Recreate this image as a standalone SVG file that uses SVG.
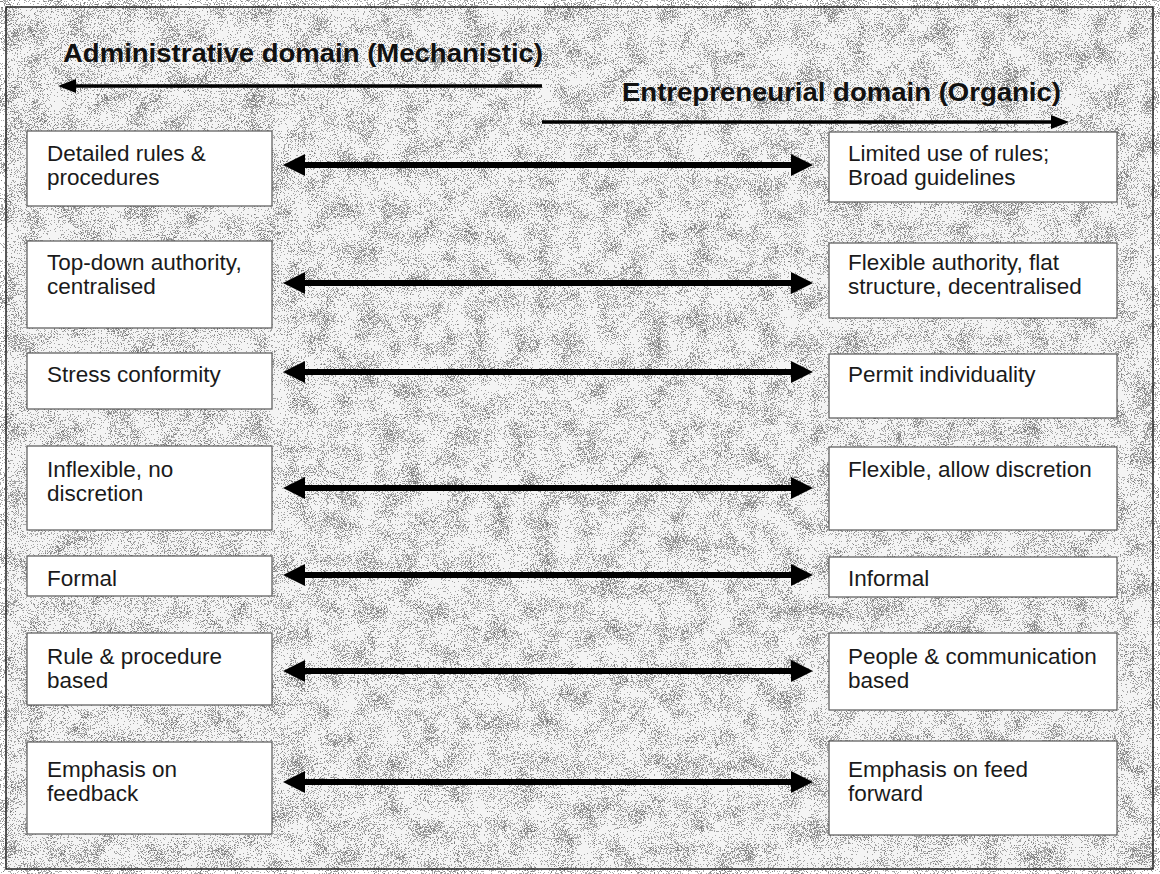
<svg xmlns="http://www.w3.org/2000/svg" width="1160" height="874" viewBox="0 0 1160 874">
  <style>
    .head { font-family: "Liberation Sans", Arial, sans-serif; font-weight: bold; font-size: 25px; fill: #111; }
    .lbl { font-family: "Liberation Sans", Arial, sans-serif; font-size: 22.5px; fill: #1a1a1a; }
    .box { fill: #ffffff; stroke: #555; stroke-width: 1.2; }
    .dir { stroke: #000; stroke-width: 3.5; fill: none; }
    .link { stroke: #000; stroke-width: 6; fill: none; }
  </style>
  <defs>
    <marker id="headSmall" viewBox="0 0 18 14" markerWidth="18" markerHeight="14" refX="0" refY="7" orient="auto-start-reverse" markerUnits="userSpaceOnUse">
      <path d="M0,0 L18,7 L0,14 z" fill="#000"/>
    </marker>
    <marker id="headBig" viewBox="0 0 22 22" markerWidth="22" markerHeight="22" refX="0" refY="11" orient="auto-start-reverse" markerUnits="userSpaceOnUse">
      <path d="M0,0 L22,11 L0,22 z" fill="#000"/>
    </marker>
    <!-- speckled halftone backdrop: fine dots, lightly modulated by a slower field -->
    <filter id="grain" x="0" y="0" width="1160" height="874" filterUnits="userSpaceOnUse" color-interpolation-filters="sRGB">
      <feTurbulence type="fractalNoise" baseFrequency="1.3" numOctaves="1" seed="5" result="fine"/>
      <feTurbulence type="fractalNoise" baseFrequency="0.045" numOctaves="2" seed="11" result="coarse"/>
      <feColorMatrix in="fine" type="matrix" values="0 0 0 0 0  0 0 0 0 0  0 0 0 0 0  1 0 0 0 0" result="fineA"/>
      <feColorMatrix in="coarse" type="matrix" values="0 0 0 0 0  0 0 0 0 0  0 0 0 0 0  1 0 0 0 0" result="coarseA"/>
      <feComposite in="fineA" in2="coarseA" operator="arithmetic" k1="0" k2="1" k3="0.35" k4="-0.12" result="mix"/>
      <feComponentTransfer in="mix">
        <feFuncA type="discrete" tableValues="0 0 0 0 0 0.55 0.85 1"/>
      </feComponentTransfer>
      <feColorMatrix type="matrix" values="0 0 0 0 0.4  0 0 0 0 0.4  0 0 0 0 0.4  0 0 0 1 0"/>
    </filter>
  </defs>

  <!-- page and frame -->
  <rect x="0" y="0" width="1160" height="874" fill="#ffffff"/>
  <rect x="6" y="7" width="1147" height="862" fill="#f4f4f4"/>
  <rect x="6" y="7" width="1147" height="862" fill="#000" filter="url(#grain)"/>
  <rect x="6" y="7" width="1147" height="862" fill="none" stroke="#222" stroke-width="1.5"/>

  <!-- domain headings -->
  <g id="heading-admin">
    <text class="head" x="63" y="62" textLength="480" lengthAdjust="spacingAndGlyphs">Administrative domain (Mechanistic)</text>
  </g>
  <g id="heading-entre">
    <text class="head" x="622" y="101" textLength="439" lengthAdjust="spacingAndGlyphs">Entrepreneurial domain (Organic)</text>
  </g>

  <!-- connectors -->
  <g id="connectors">
    <line class="dir" x1="542" y1="86" x2="76" y2="86" marker-end="url(#headSmall)"/>
    <line class="dir" x1="542" y1="122" x2="1051" y2="122" marker-end="url(#headSmall)"/>
    <line class="link" x1="305" y1="165" x2="791" y2="165" marker-start="url(#headBig)" marker-end="url(#headBig)"/>
    <line class="link" x1="305" y1="283" x2="791" y2="283" marker-start="url(#headBig)" marker-end="url(#headBig)"/>
    <line class="link" x1="305" y1="372" x2="791" y2="372" marker-start="url(#headBig)" marker-end="url(#headBig)"/>
    <line class="link" x1="305" y1="488" x2="791" y2="488" marker-start="url(#headBig)" marker-end="url(#headBig)"/>
    <line class="link" x1="305" y1="575" x2="791" y2="575" marker-start="url(#headBig)" marker-end="url(#headBig)"/>
    <line class="link" x1="305" y1="671" x2="791" y2="671" marker-start="url(#headBig)" marker-end="url(#headBig)"/>
    <line class="link" x1="305" y1="782" x2="791" y2="782" marker-start="url(#headBig)" marker-end="url(#headBig)"/>
  </g>

  <!-- mechanistic column -->
  <g id="rules-left">
    <rect class="box" x="27" y="131" width="245" height="75"/>
    <text class="lbl" x="47" y="161">Detailed rules &amp;</text>
    <text class="lbl" x="47" y="185">procedures</text>
  </g>
  <g id="authority-left">
    <rect class="box" x="27" y="241" width="245" height="87"/>
    <text class="lbl" x="47" y="270">Top-down authority,</text>
    <text class="lbl" x="47" y="294">centralised</text>
  </g>
  <g id="conformity-left">
    <rect class="box" x="27" y="353" width="245" height="56"/>
    <text class="lbl" x="47" y="382">Stress conformity</text>
  </g>
  <g id="discretion-left">
    <rect class="box" x="27" y="446" width="245" height="84"/>
    <text class="lbl" x="47" y="477">Inflexible, no</text>
    <text class="lbl" x="47" y="501">discretion</text>
  </g>
  <g id="formality-left">
    <rect class="box" x="27" y="556" width="245" height="40"/>
    <text class="lbl" x="47" y="586">Formal</text>
  </g>
  <g id="basis-left">
    <rect class="box" x="27" y="633" width="245" height="72"/>
    <text class="lbl" x="47" y="664">Rule &amp; procedure</text>
    <text class="lbl" x="47" y="688">based</text>
  </g>
  <g id="emphasis-left">
    <rect class="box" x="27" y="742" width="245" height="92"/>
    <text class="lbl" x="47" y="777">Emphasis on</text>
    <text class="lbl" x="47" y="801">feedback</text>
  </g>

  <!-- organic column -->
  <g id="rules-right">
    <rect class="box" x="829" y="132" width="288" height="70"/>
    <text class="lbl" x="848" y="161">Limited use of rules;</text>
    <text class="lbl" x="848" y="185">Broad guidelines</text>
  </g>
  <g id="authority-right">
    <rect class="box" x="829" y="243" width="288" height="75"/>
    <text class="lbl" x="848" y="270">Flexible authority, flat</text>
    <text class="lbl" x="848" y="294">structure, decentralised</text>
  </g>
  <g id="individuality-right">
    <rect class="box" x="829" y="354" width="288" height="64"/>
    <text class="lbl" x="848" y="382">Permit individuality</text>
  </g>
  <g id="discretion-right">
    <rect class="box" x="829" y="447" width="288" height="83"/>
    <text class="lbl" x="848" y="477">Flexible, allow discretion</text>
  </g>
  <g id="formality-right">
    <rect class="box" x="829" y="557" width="288" height="40"/>
    <text class="lbl" x="848" y="586">Informal</text>
  </g>
  <g id="basis-right">
    <rect class="box" x="829" y="633" width="288" height="77"/>
    <text class="lbl" x="848" y="664">People &amp; communication</text>
    <text class="lbl" x="848" y="688">based</text>
  </g>
  <g id="emphasis-right">
    <rect class="box" x="829" y="741" width="288" height="94"/>
    <text class="lbl" x="848" y="777">Emphasis on feed</text>
    <text class="lbl" x="848" y="801">forward</text>
  </g>
</svg>
